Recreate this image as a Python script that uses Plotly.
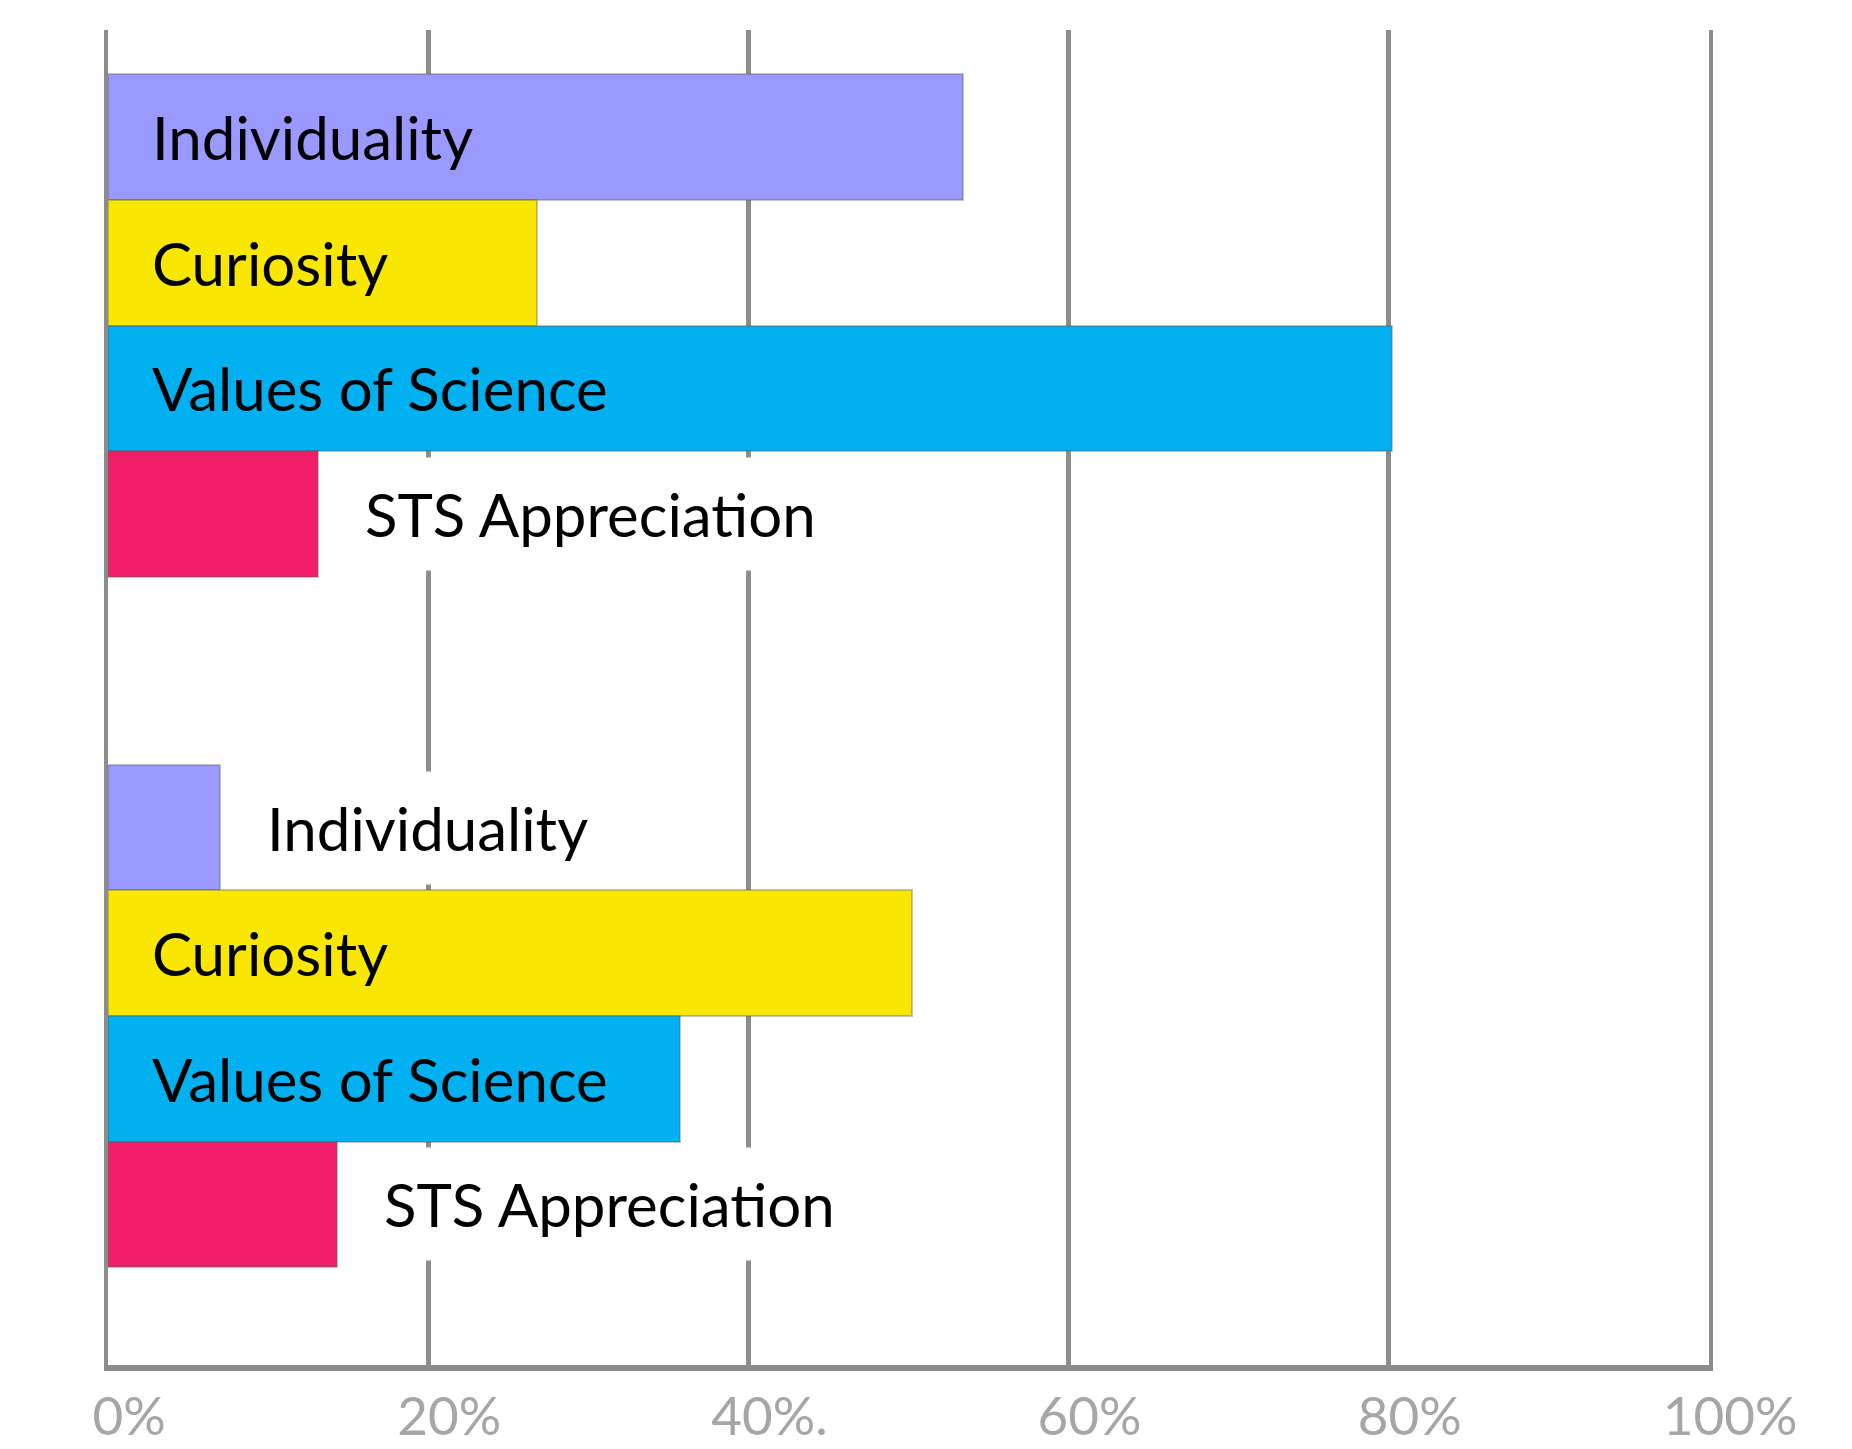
import plotly.graph_objects as go

# ---- data ----
categories = ["Individuality", "Curiosity", "Values of Science", "STS Appreciation"]
group1_values = [53.4, 26.8, 80.2, 13.1]
group2_values = [7.0, 50.2, 35.7, 14.3]
tick_values = [0, 20, 40, 60, 80, 100]
tick_labels = ["0%", "20%", "40%.", "60%", "80%", "100%"]
colors = ["#9999FF", "#FAE700", "#00B0F0", "#F21E6A"]

# ---- layout helpers ----
group_positions = [[1, 2, 3, 4], [6.5, 7.5, 8.5, 9.5]]
inside_threshold = 20  # labels go inside bars that are long enough

W, H = 1852, 1449
FONT = "Lato"

fig = go.Figure()
for i, cat in enumerate(categories):
    fig.add_trace(go.Bar(
        x=[group1_values[i], group2_values[i]],
        y=[group_positions[0][i], group_positions[1][i]],
        orientation="h",
        width=1.0,
        marker=dict(color=colors[i], line=dict(color="rgba(90,90,90,0.35)", width=2)),
        name=cat,
        showlegend=False,
        hoverinfo="x+name",
    ))

annotations = []
for g, vals in enumerate([group1_values, group2_values]):
    for i, cat in enumerate(categories):
        v = vals[i]
        y = group_positions[g][i]
        if v > inside_threshold:
            annotations.append(dict(
                x=0, y=y, xref="x", yref="y", text=cat, showarrow=False,
                xanchor="left", yanchor="middle", xshift=42,
                font=dict(family=FONT, size=60, color="black"),
            ))
        else:
            annotations.append(dict(
                x=v, y=y, xref="x", yref="y", text=cat, showarrow=False,
                xanchor="left", yanchor="middle", xshift=26,
                bgcolor="white", borderpad=20,
                font=dict(family=FONT, size=60, color="black"),
            ))

fig.update_layout(
    width=W, height=H,
    margin=dict(l=108, r=143, t=30, b=84, pad=0),
    paper_bgcolor="white", plot_bgcolor="white",
    bargap=0,
    annotations=annotations,
    font=dict(family=FONT),
)
fig.update_xaxes(
    range=[0, 100],
    tickvals=tick_values, ticktext=tick_labels,
    showgrid=True, gridcolor="#8C8C8C", gridwidth=5,
    zeroline=False,
    showline=True, linecolor="#8C8C8C", linewidth=6,
    ticks="",
    automargin=False,
    ticklabelshift=21, ticklabelstandoff=0,
    tickfont=dict(family=FONT, size=53, color="#A6A6A6"),
)
fig.update_yaxes(
    range=[10.78, 0.146],
    showgrid=False, zeroline=False,
    showticklabels=False, ticks="",
    automargin=False,
    showline=True, mirror=True, linecolor="#8C8C8C", linewidth=4,
)

fig.write_html("out.html")
